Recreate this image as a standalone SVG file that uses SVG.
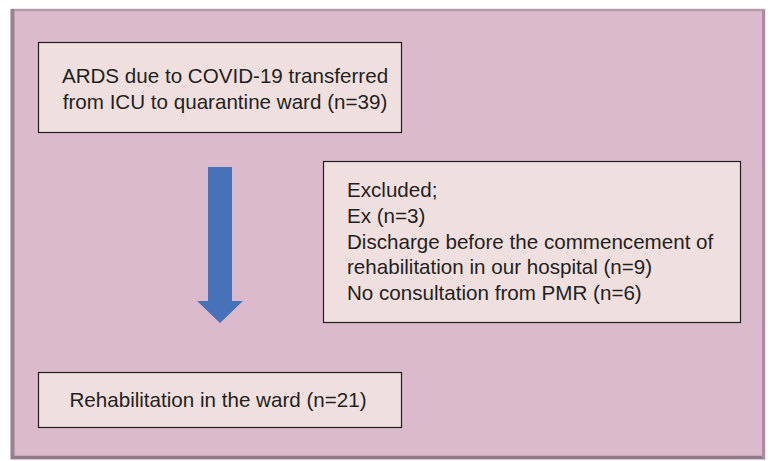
<svg xmlns="http://www.w3.org/2000/svg" width="770" height="461" viewBox="0 0 770 461">
<style>
.box{fill:#f0dfdf;stroke:#231f20;stroke-width:1.2}
.t{font-family:"Liberation Sans",Arial,sans-serif;font-size:20.6px;fill:#231f20}
</style>
<rect width="770" height="461" fill="#ffffff"/>
<g id="panel">
<rect x="12" y="10" width="752" height="448" fill="#dbbbcb" stroke="#b59aaa" stroke-width="2.5"/>
<line x1="12.5" y1="9" x2="12.5" y2="459" stroke="#9a8292" stroke-width="4"/>
<line x1="11" y1="457.5" x2="765" y2="457.5" stroke="#927a8a" stroke-width="3.5"/>
<line x1="763.5" y1="10" x2="763.5" y2="458" stroke="#a88e9e" stroke-width="3"/>
</g>
<g id="node-top">
<rect class="box" x="38.5" y="42.5" width="363" height="90"/>
<text class="t" x="225" y="83" text-anchor="middle">ARDS due to COVID-19 transferred</text>
<text class="t" x="225" y="108.5" text-anchor="middle">from ICU to quarantine ward (n=39)</text>
</g>
<g id="node-excluded">
<rect class="box" x="323.5" y="161.5" width="417" height="161"/>
<text class="t" x="347" y="197">Excluded;</text>
<text class="t" x="347" y="223">Ex (n=3)</text>
<text class="t" x="347" y="248.5">Discharge before the commencement of</text>
<text class="t" x="347" y="274">rehabilitation in our hospital (n=9)</text>
<text class="t" x="347" y="299.5">No consultation from PMR (n=6)</text>
</g>
<g id="node-rehab">
<rect class="box" x="38.5" y="372.5" width="363" height="55"/>
<text class="t" x="218" y="407" text-anchor="middle">Rehabilitation in the ward (n=21)</text>
</g>
<g id="connectors">
<polygon points="208,167 232,167 232,301 243,301 220,323 197,301 208,301" fill="#4672b9"/>
</g>
</svg>
